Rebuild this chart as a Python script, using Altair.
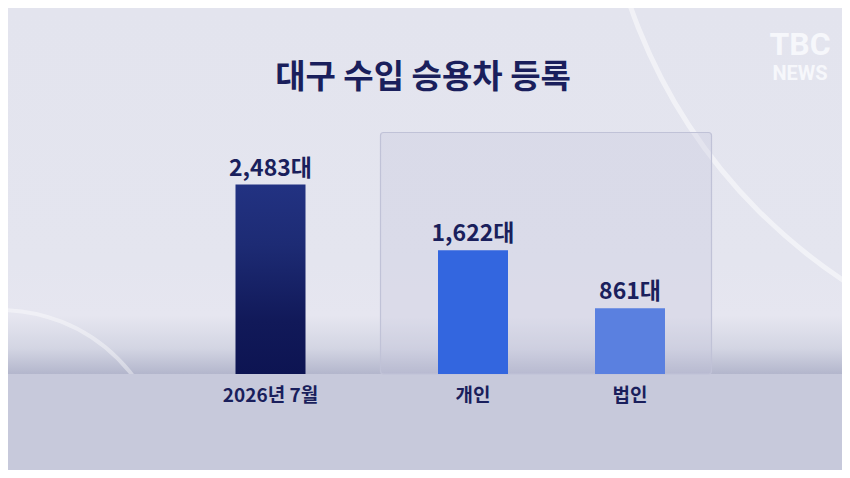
import altair as alt
import pandas as pd

# ---- data ----
title_text = "대구 수입 승용차 등록"
total_labels = ["2026년 7월"]
total_values = [2483]
split_labels = ["개인", "법인"]
split_values = [1622, 861]
split_colors = ["#3366df", "#5a80e0"]
unit = "대"

FONT = "Noto Sans CJK KR"
INK = "#1a1f5c"
W, H = 834, 462
BASE = 366
TOP = 124

total_df = pd.DataFrame({"cat": total_labels, "value": total_values})
split_df = pd.DataFrame({"cat": split_labels, "value": split_values})
one = pd.DataFrame({"k": [0]})

yscale = alt.Scale(domain=[0, 3172], range=[BASE, TOP], nice=False, zero=True)
yenc = alt.Y("value:Q", scale=yscale, axis=None)

axis_common = dict(orient="bottom", offset=-(H - BASE), labelPadding=12, labelAngle=0,
                   domain=False, ticks=False, grid=False, title="", zindex=2,
                   labelFont=FONT, labelFontWeight="bold", labelFontSize=19,
                   labelColor=INK, labelLimit=300)

x_left_scale = alt.Scale(domain=total_labels, range=[173, 352], paddingInner=0, paddingOuter=0)
x_right_scale = alt.Scale(domain=split_labels, range=[386.5, 700.5], paddingInner=0, paddingOuter=0)

label_expr = "format(datum.value, ',') + '" + unit + "'"

# ---- decorations ----
bg_upper = alt.Chart(one).mark_rect(
    clip=True,
    color=alt.Gradient(gradient="linear", x1=0, x2=0, y1=0, y2=1, stops=[
        alt.GradientStop(offset=0, color="#e3e4ee"),
        alt.GradientStop(offset=0.7, color="#e4e5ef"),
        alt.GradientStop(offset=0.84, color="#e6e6f0"),
        alt.GradientStop(offset=0.93, color="#d3d5e3"),
        alt.GradientStop(offset=1, color="#b3b6cc"),
    ])
).encode(x=alt.value(0), x2=alt.value(W), y=alt.value(0), y2=alt.value(BASE))

arc_right = alt.Chart(one).mark_point(
    shape="circle", filled=False, stroke="#ffffff", strokeWidth=5, opacity=0.5,
    size=1168561, clip=True
).encode(x=alt.value(1133), y=alt.value(-179))

arc_left = alt.Chart(one).mark_point(
    shape="circle", filled=False, stroke="#ffffff", strokeWidth=4, opacity=0.4,
    size=111556, clip=True
).encode(x=alt.value(-8), y=alt.value(469))

strip = alt.Chart(one).mark_rect(color="#c7c9db", clip=True).encode(
    x=alt.value(0), x2=alt.value(W), y=alt.value(BASE), y2=alt.value(H))

box = alt.Chart(one).mark_rect(
    fill="#c3c5da", fillOpacity=0.3, stroke="#c0c2d7", strokeWidth=1.2,
    cornerRadius=3, clip=True
).encode(x=alt.value(372.5), x2=alt.value(703.5), y=alt.value(124.5), y2=alt.value(BASE))

logo_tbc = alt.Chart(one).mark_text(
    text="TBC", font="Roboto", fontWeight="bold", fontSize=32, color="#f6f7fb",
    align="center", baseline="alphabetic", clip=True
).encode(x=alt.value(792), y=alt.value(46.5))

logo_news = alt.Chart(one).mark_text(
    text="NEWS", font="Roboto", fontWeight="bold", fontSize=20, color="#f6f7fb",
    align="center", baseline="alphabetic", clip=True
).encode(x=alt.value(792), y=alt.value(72))

# ---- data layers ----
bar_total = alt.Chart(total_df).mark_bar(
    size=70,
    color=alt.Gradient(gradient="linear", x1=0, x2=0, y1=0, y2=1, stops=[
        alt.GradientStop(offset=0, color="#223282"),
        alt.GradientStop(offset=0.32, color="#1d2b74"),
        alt.GradientStop(offset=0.72, color="#111959"),
        alt.GradientStop(offset=1, color="#0d1452"),
    ])
).encode(x=alt.X("cat:N", scale=x_left_scale, axis=alt.Axis(**axis_common)), y=yenc)

lab_total = alt.Chart(total_df).transform_calculate(label=label_expr).mark_text(
    font=FONT, fontWeight="bold", fontSize=23, color=INK, baseline="alphabetic", dy=-9
).encode(x=alt.X("cat:N", scale=x_left_scale, axis=None), y=yenc, text="label:N")

bar_split = alt.Chart(split_df).mark_bar(size=70).encode(
    x=alt.X("cat:N", scale=x_right_scale, axis=alt.Axis(**axis_common)),
    y=yenc,
    color=alt.Color("cat:N", scale=alt.Scale(domain=split_labels, range=split_colors), legend=None),
)

lab_split = alt.Chart(split_df).transform_calculate(label=label_expr).mark_text(
    font=FONT, fontWeight="bold", fontSize=23, color=INK, baseline="alphabetic", dy=-9
).encode(x=alt.X("cat:N", scale=x_right_scale, axis=None), y=yenc, text="label:N")

chart = alt.layer(
    bg_upper, arc_right, arc_left, strip, box, logo_tbc, logo_news,
    bar_total, lab_total, bar_split, lab_split
).resolve_scale(x="independent").properties(
    width=W, height=H, padding=0,
    autosize=alt.AutoSizeParams(type="none"),
    background="#c7c9db",
    title=alt.TitleParams(
        text=title_text, font=FONT, fontSize=33, fontWeight="bold", color=INK,
        anchor="middle", frame="group", offset=-87, dx=-2
    ),
).configure_view(strokeWidth=0)

chart.save("out.html", embed_options={"renderer": "svg", "actions": False})
